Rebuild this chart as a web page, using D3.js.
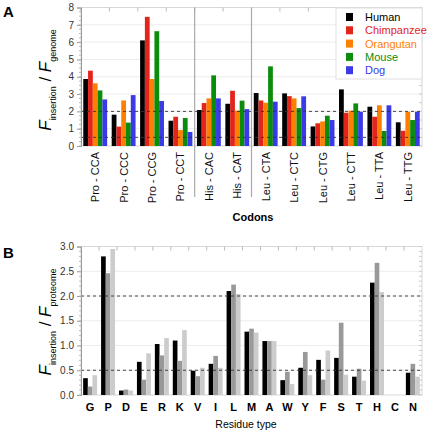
<!DOCTYPE html>
<html><head><meta charset="utf-8">
<script src="https://cdn.jsdelivr.net/npm/d3@7/dist/d3.min.js"></script>
<style>body{margin:0;background:#fff}svg{font-family:"Liberation Sans",Arial,sans-serif}</style>
</head><body><svg id="c" width="430" height="433"></svg>
<script>
const codons = ["Pro - CCA","Pro - CCC","Pro - CCG","Pro - CCT","His - CAC","His - CAT","Leu - CTA","Leu - CTC","Leu - CTG","Leu - CTT","Leu - TTA","Leu - TTG"];
const species = ["Human","Chimpanzee","Orangutan","Mouse","Dog"];
const speciesColors = ["#000000","#e3241b","#ff8000","#0c8c0c","#3a3ae6"];
const human      = [3.87,1.81,6.10,1.46,2.08,2.44,3.06,3.04,1.13,3.27,2.27,1.37];
const chimpanzee = [4.35,1.12,7.46,1.69,2.48,3.19,2.63,2.88,1.31,1.92,1.69,0.88];
const orangutan  = [3.62,2.63,3.87,0.92,2.75,2.04,2.50,2.75,1.42,2.04,2.35,1.98];
const mouse      = [3.21,1.35,6.63,1.62,4.08,2.62,4.60,2.19,1.75,2.46,0.87,1.50];
const dog        = [2.69,2.94,2.60,0.81,2.75,2.13,2.56,2.87,1.50,1.98,2.35,1.98];
const yTicksA = [0,1,2,3,4,5,6,7,8];

const residues = ["G","P","D","E","R","K","V","I","L","M","A","W","Y","F","S","T","H","C","N"];
const seriesB1 = [0.34,2.80,0.09,0.67,1.03,1.10,0.49,0.63,2.10,1.28,1.09,0.30,0.55,0.71,0.75,0.37,2.27,0,0.45];
const seriesB2 = [0.17,2.46,0.11,0.31,0.80,0.69,0.38,0.79,2.23,1.34,1.09,0.47,0.87,0.31,1.46,0.53,2.67,0,0.63];
const seriesB3 = [0.40,2.95,0.09,0.84,1.15,1.31,0.55,0.55,2.04,1.26,1.09,0.22,0.40,0.90,0.41,0.29,2.08,0,0.37];
const colorsB = ["#000000","#999999","#cccccc"];
const yTicksB = [0,0.5,1.0,1.5,2.0,2.5,3.0];

const svg = d3.select("#c");
const L = 81, R = 422;

// ---------- Panel A ----------
const topA = 7.5, botA = 146;
const xA = d3.scaleBand().domain(codons).range([L,R]).paddingInner(0.16).paddingOuter(0.08);
const yA = d3.scaleLinear().domain([0,8]).range([botA,topA]);
const gA = svg.append("g");
// grid
gA.selectAll("line.grid").data(yTicksA.slice(1)).join("line")
  .attr("x1",L).attr("x2",R).attr("y1",d=>yA(d)).attr("y2",d=>yA(d))
  .attr("stroke","#ececec").attr("stroke-width",1);
// frame
gA.append("rect").attr("x",L).attr("y",topA).attr("width",R-L).attr("height",botA-topA)
  .attr("fill","none").attr("stroke","#d8d8d8");
// top ticks
const bwA = xA.step();
gA.selectAll("line.tt").data(codons).join("line")
  .attr("x1",d=>xA(d)-xA.paddingInner()*bwA/2).attr("x2",d=>xA(d)-xA.paddingInner()*bwA/2)
  .attr("y1",topA).attr("y2",topA+4).attr("stroke","#bbb");
// right minor ticks
gA.selectAll("line.rt").data(d3.range(0,8.01,0.5)).join("line")
  .attr("x1",R-3).attr("x2",R).attr("y1",d=>yA(d)).attr("y2",d=>yA(d)).attr("stroke","#ccc");
// bars
const dataA = [human,chimpanzee,orangutan,mouse,dog];
const xsA = d3.scaleBand().domain(species).range([0,xA.bandwidth()]);
species.forEach((s,si)=>{
  gA.selectAll("rect.b"+si).data(dataA[si]).join("rect")
    .attr("x",(d,i)=>xA(codons[i])+xsA(s)).attr("width",xsA.bandwidth())
    .attr("y",d=>yA(d)).attr("height",d=>yA(0)-yA(d)).attr("fill",speciesColors[si]);
});
// dashed
[0.5,2].forEach(v=>gA.append("line").attr("x1",L).attr("x2",R).attr("y1",yA(v)).attr("y2",yA(v))
  .attr("stroke","#333").attr("stroke-dasharray","3,3").attr("stroke-width",0.9));
// separators
[3,5].forEach(i=>{
  const xx = (xA(codons[i])+xA.bandwidth()+xA(codons[i+1]))/2;
  gA.append("line").attr("x1",xx).attr("x2",xx).attr("y1",topA).attr("y2",197).attr("stroke","#aaa").attr("stroke-width",1.2);
});
// y axis
const axA = gA.append("g").attr("transform",`translate(${L},0)`)
  .call(d3.axisLeft(yA).tickValues(yTicksA).tickSize(4).tickFormat(d3.format("d")));
axA.select(".domain").attr("stroke","#999");
axA.selectAll(".tick line").attr("stroke","#999");
axA.selectAll("text").attr("font-size",10).attr("fill","#333").attr("font-family","Liberation Sans, Arial");
gA.selectAll("line.mt").data(d3.range(0,8.01,0.25)).join("line")
  .attr("x1",L-2).attr("x2",L).attr("y1",d=>yA(d)).attr("y2",d=>yA(d)).attr("stroke","#bbb");
// x labels
gA.selectAll("text.xl").data(codons).join("text")
  .attr("transform",d=>`translate(${xA(d)+xA.bandwidth()/2+4},${botA+6}) rotate(-90)`)
  .attr("text-anchor","end").attr("font-size",11).attr("fill","#111").text(d=>d);
gA.append("text").attr("x",253).attr("y",221).attr("text-anchor","middle")
  .attr("font-size",11).attr("font-weight","bold").text("Codons");
// y title
function yTitle(g, cx, cy, sub2){
  const t = g.append("text").attr("transform",`translate(${cx},${cy}) rotate(-90)`).attr("text-anchor","middle");
  t.append("tspan").attr("font-style","italic").attr("font-size",17).text("F");
  t.append("tspan").attr("font-size",9).attr("dy",5).text("insertion");
  t.append("tspan").attr("font-size",17).attr("dy",-5).text(" / ");
  t.append("tspan").attr("font-style","italic").attr("font-size",17).text("F");
  t.append("tspan").attr("font-size",9).attr("dy",5).text(sub2);
}
yTitle(gA, 51, 80, "genome");
// legend
const lg = gA.append("g");
lg.append("rect").attr("x",336).attr("y",8).attr("width",86).attr("height",71).attr("fill","#fff").attr("stroke","#e0e0e0");
species.forEach((s,i)=>{
  lg.append("rect").attr("x",346).attr("y",13+i*13.3).attr("width",7).attr("height",8).attr("fill",speciesColors[i]);
  lg.append("text").attr("x",365).attr("y",21+i*13.3).attr("font-size",11).attr("fill",speciesColors[i]).text(s);
});
svg.append("text").attr("x",3).attr("y",17).attr("font-size",15).attr("font-weight","bold").text("A");

// ---------- Panel B ----------
const topB = 246.5, botB = 395;
const xB = d3.scaleBand().domain(residues).range([L,R]).paddingInner(0.22).paddingOuter(0.12);
const yB = d3.scaleLinear().domain([0,3]).range([botB,topB]);
const gB = svg.append("g");
gB.selectAll("line.grid").data(yTicksB.slice(1)).join("line")
  .attr("x1",L).attr("x2",R).attr("y1",d=>yB(d)).attr("y2",d=>yB(d)).attr("stroke","#ececec");
gB.append("rect").attr("x",L).attr("y",topB).attr("width",R-L).attr("height",botB-topB)
  .attr("fill","none").attr("stroke","#d8d8d8");
const bwB = xB.step();
gB.selectAll("line.tt").data(residues).join("line")
  .attr("x1",d=>xB(d)-xB.paddingInner()*bwB/2).attr("x2",d=>xB(d)-xB.paddingInner()*bwB/2)
  .attr("y1",topB).attr("y2",topB+4).attr("stroke","#bbb");
gB.selectAll("line.rt").data(d3.range(0,3.01,0.1)).join("line")
  .attr("x1",R-3).attr("x2",R).attr("y1",d=>yB(d)).attr("y2",d=>yB(d)).attr("stroke","#ccc");
const dataB = [seriesB1,seriesB2,seriesB3];
const xsB = d3.scaleBand().domain([0,1,2]).range([0,xB.bandwidth()]);
dataB.forEach((arr,si)=>{
  gB.selectAll("rect.b"+si).data(arr).join("rect")
    .attr("x",(d,i)=>xB(residues[i])+xsB(si)).attr("width",xsB.bandwidth())
    .attr("y",d=>yB(d)).attr("height",d=>yB(0)-yB(d)).attr("fill",colorsB[si]);
});
[0.5,2].forEach(v=>gB.append("line").attr("x1",L).attr("x2",R).attr("y1",yB(v)).attr("y2",yB(v))
  .attr("stroke","#333").attr("stroke-dasharray","3,3").attr("stroke-width",0.9));
const axB = gB.append("g").attr("transform",`translate(${L},0)`)
  .call(d3.axisLeft(yB).tickValues(yTicksB).tickSize(4).tickFormat(d3.format(".1f")));
axB.select(".domain").attr("stroke","#999");
axB.selectAll(".tick line").attr("stroke","#999");
axB.selectAll("text").attr("font-size",10).attr("fill","#333").attr("font-family","Liberation Sans, Arial");
gB.selectAll("line.mt").data(d3.range(0,3.01,0.1)).join("line")
  .attr("x1",L-2).attr("x2",L).attr("y1",d=>yB(d)).attr("y2",d=>yB(d)).attr("stroke","#bbb");
gB.selectAll("text.xl").data(residues).join("text")
  .attr("x",d=>xB(d)+xB.bandwidth()/2).attr("y",411).attr("text-anchor","middle")
  .attr("font-size",11).attr("font-weight","bold").text(d=>d);
gB.append("text").attr("x",246).attr("y",428).attr("text-anchor","middle").attr("font-size",10.5).text("Residue type");
yTitle(gB, 51, 322, "proteome");
svg.append("text").attr("x",3).attr("y",258).attr("font-size",15).attr("font-weight","bold").text("B");
</script></body></html>
